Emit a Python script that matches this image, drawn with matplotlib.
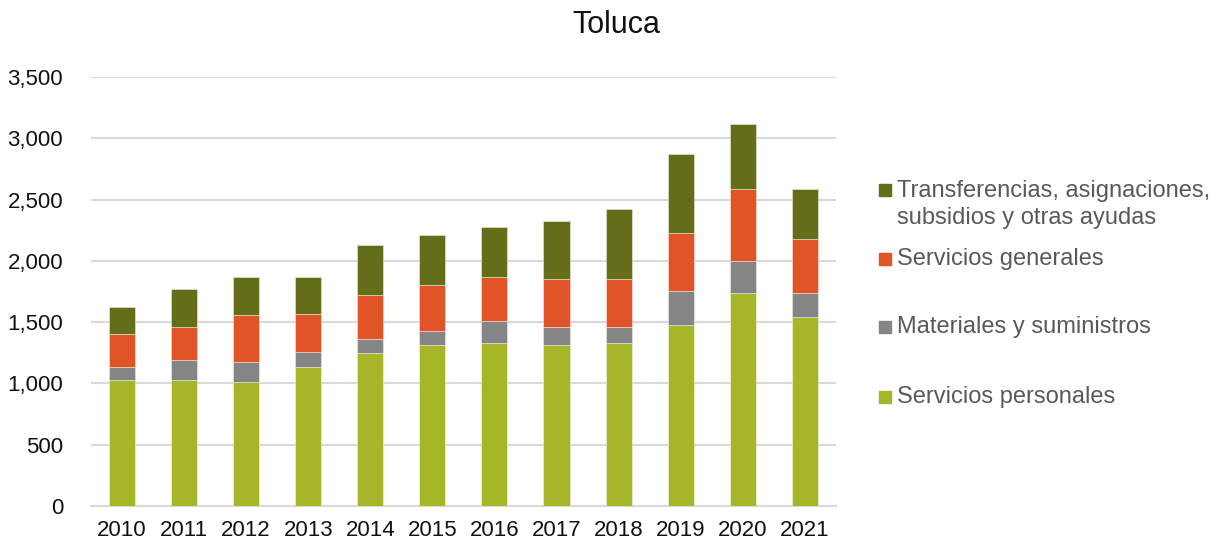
import matplotlib.pyplot as plt
from matplotlib.patches import Rectangle
from matplotlib.ticker import FuncFormatter
import numpy as np

plt.rcParams['font.family'] = ['Liberation Sans', 'DejaVu Sans']

years = ['2010', '2011', '2012', '2013', '2014', '2015', '2016', '2017', '2018', '2019', '2020', '2021']
personales = [1025, 1025, 1009, 1137, 1252, 1317, 1332, 1316, 1332, 1479, 1742, 1544]
materiales = [112, 163, 163, 116, 113, 113, 179, 147, 131, 277, 258, 195]
generales = [263, 275, 390, 310, 358, 376, 359, 390, 390, 472, 586, 440]
transferencias = [225, 309, 308, 307, 407, 405, 404, 469, 567, 648, 531, 404]

labels = ['Servicios personales', 'Materiales y suministros', 'Servicios generales',
          'Transferencias, asignaciones,\nsubsidios y otras ayudas']
colors = ['#A7B629', '#858585', '#E05427', '#646E18']

fig = plt.figure(figsize=(12.23, 5.47), dpi=100)
ax = fig.add_axes([0.0744, 0.075, 0.609, 0.784])

x = np.arange(len(years))
bottom = np.zeros(len(years))
for vals, col in zip([personales, materiales, generales, transferencias], colors):
    ax.bar(x, vals, 0.42, bottom=bottom, color=col, edgecolor=(1, 1, 1, 0.5), linewidth=0.6, zorder=3)
    bottom += np.array(vals)

ax.set_ylim(0, 3500)
ax.set_xlim(-0.5, len(years) - 0.5)
ax.set_yticks(range(0, 3501, 500))
ax.yaxis.set_major_formatter(FuncFormatter(lambda v, p: f'{int(v):,}'))
ax.set_xticks(x)
ax.set_xticklabels(years)
ax.grid(axis='y', color='#D9D9D9', linewidth=1.5, zorder=0)
for s in ['top', 'right', 'left']:
    ax.spines[s].set_visible(False)
ax.spines['bottom'].set_color('#D9D9D9')
ax.spines['bottom'].set_linewidth(1.5)
ax.tick_params(axis='both', length=0, labelsize=16, colors='#111111')
ax.tick_params(axis='y', pad=20)
ax.tick_params(axis='x', pad=10)

fig.text(616 / 1223, 1 - 25 / 547, 'Toluca', ha='center', va='center', fontsize=22, color='#111111')

# legend, placed like the original
leg_y = [397, 327, 259, 190]
for lab, col, yy in zip(labels, colors, leg_y):
    fy = 1 - yy / 547
    fig.patches.append(Rectangle((879 / 1223, fy - 6 / 547), 12 / 1223, 12 / 547,
                                 transform=fig.transFigure, color=col, figure=fig))
    fig.text(897 / 1223, fy, lab, ha='left', va='top' if '\n' in lab else 'center',
             fontsize=17, color='#595959', linespacing=1.3)
# adjust the two-line label so its first line centres on the marker
fig.texts[-1].set_y(1 - (190 - 10) / 547)

fig.savefig('out.png', dpi=100)
